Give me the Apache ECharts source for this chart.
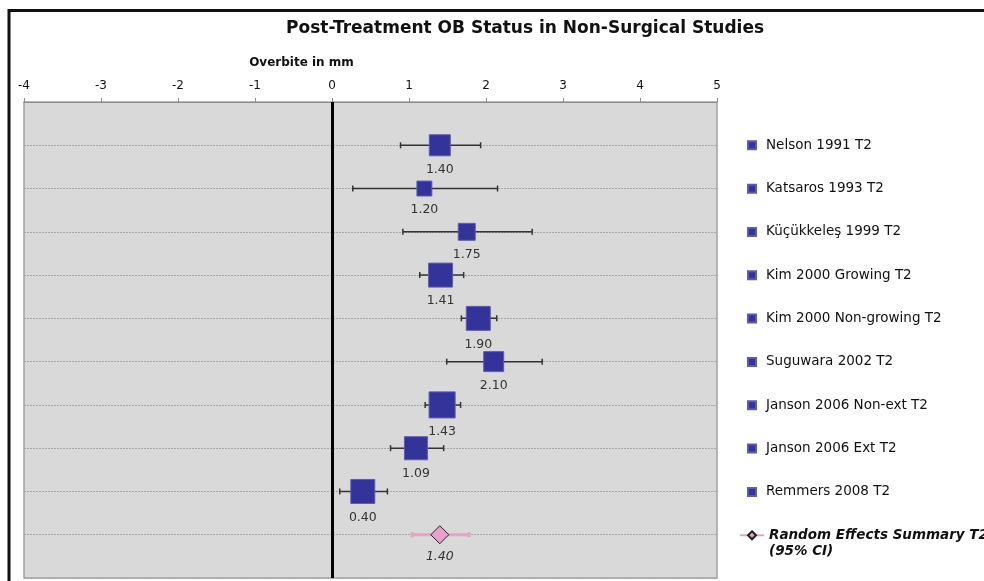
<!DOCTYPE html>
<html>
<head>
<meta charset="utf-8">
<script src="https://cdn.jsdelivr.net/npm/echarts@6/dist/echarts.min.js"></script>
<style>
  html, body { margin: 0; padding: 0; background: #ffffff; }
  #chart { width: 984px; height: 581px; }
</style>
</head>
<body>
<div id="chart"></div>
<script>
// Forest plot: post-treatment overbite (mm) per study, with 95% CI
const studies = [
  'Nelson 1991 T2',
  'Katsaros 1993 T2',
  'Küçükkeleş 1999 T2',
  'Kim 2000 Growing T2',
  'Kim 2000 Non-growing T2',
  'Suguwara 2002 T2',
  'Janson 2006 Non-ext T2',
  'Janson 2006 Ext T2',
  'Remmers 2008 T2'
];
const means  = [1.40, 1.20, 1.75, 1.41, 1.90, 2.10, 1.43, 1.09, 0.40];
const ciLow  = [0.89, 0.27, 0.92, 1.14, 1.68, 1.49, 1.21, 0.76, 0.10];
const ciHigh = [1.93, 2.15, 2.60, 1.71, 2.14, 2.73, 1.67, 1.45, 0.72];
// relative study weights (%), shown as marker area
const weights = [10.3, 5.2, 6.7, 13.4, 13.4, 9.3, 15.8, 12.3, 13.4];

const summaryName = 'Random Effects Summary T2 (95% CI)';
const summaryMean = 1.40;
const summaryLow  = 1.04;
const summaryHigh = 1.78;

const xMin = -4, xMax = 5, xStep = 1;

const FONT = "'DejaVu Sans', Verdana, sans-serif";
const NAVY = '#333399';
const PINK = '#e6a2cb';

// marker side length grows with the square root of the weight
const markerSize = w => 6.55 * Math.sqrt(w);

function ciRenderer(style, cap) {
  return function (params, api) {
    const lo = api.coord([api.value(0), api.value(2)]);
    const hi = api.coord([api.value(1), api.value(2)]);
    return {
      type: 'group',
      children: [
        { type: 'line', shape: { x1: lo[0], y1: lo[1], x2: hi[0], y2: hi[1] }, style: style },
        { type: 'line', shape: { x1: lo[0], y1: lo[1] - cap, x2: lo[0], y2: lo[1] + cap }, style: style },
        { type: 'line', shape: { x1: hi[0], y1: hi[1] - cap, x2: hi[0], y2: hi[1] + cap }, style: style }
      ]
    };
  };
}

const studyRows = studies.map((_, i) => i + 1);
const summaryRow = studies.length + 1;

const series = [];

// study confidence intervals + the line of no effect at 0
series.push({
  type: 'custom',
  name: 'study CI',
  renderItem: ciRenderer({ stroke: '#333333', lineWidth: 1.5 }, 3),
  encode: { x: [0, 1], y: 2 },
  data: studies.map((_, i) => [ciLow[i], ciHigh[i], studyRows[i]]),
  z: 3,
  silent: true,
  markLine: {
    silent: true,
    symbol: 'none',
    label: { show: false },
    lineStyle: { color: '#000000', width: 3, type: 'solid' },
    data: [{ xAxis: 0 }]
  }
});

// summary confidence interval
series.push({
  type: 'custom',
  name: 'summary CI',
  renderItem: ciRenderer({ stroke: PINK, lineWidth: 3 }, 2.5),
  encode: { x: [0, 1], y: 2 },
  data: [[summaryLow, summaryHigh, summaryRow]],
  z: 3,
  silent: true
});

// study point estimates
studies.forEach((name, i) => {
  series.push({
    type: 'scatter',
    name: name,
    symbol: 'rect',
    symbolSize: markerSize(weights[i]),
    itemStyle: { color: NAVY, borderColor: '#5b5bb3', borderWidth: 1, opacity: 1 },
    label: {
      show: true,
      position: 'bottom',
      distance: 7,
      color: '#333333',
      fontFamily: FONT,
      fontSize: 12.5,
      formatter: p => p.value[0].toFixed(2)
    },
    z: 5,
    silent: true,
    data: [[means[i], studyRows[i]]]
  });
});

// pooled estimate
series.push({
  type: 'line',
  name: summaryName,
  symbol: 'diamond',
  symbolSize: 18,
  showSymbol: true,
  lineStyle: { color: PINK, width: 2 },
  itemStyle: { color: PINK, borderColor: '#222222', borderWidth: 1 },
  label: {
    show: true,
    position: 'bottom',
    distance: 6,
    color: '#333333',
    fontFamily: FONT,
    fontSize: 12.5,
    fontStyle: 'italic',
    formatter: p => p.value[0].toFixed(2)
  },
  z: 5,
  silent: true,
  data: [[summaryMean, summaryRow]]
});

const chart = echarts.init(document.getElementById('chart'), null, { renderer: 'canvas' });
chart.setOption({
  animation: false,
  backgroundColor: '#ffffff',
  title: {
    text: 'Post-Treatment OB Status in Non-Surgical Studies',
    left: 281,
    top: 15,
    textStyle: { fontFamily: FONT, fontWeight: 'bold', fontSize: 17, color: '#111111' }
  },
  graphic: [{
    type: 'rect',
    silent: true,
    shape: { x: 9, y: 10.5, width: 1000, height: 600 },
    style: { fill: 'none', stroke: '#111111', lineWidth: 3 },
    z: 100
  }],
  grid: {
    left: 24,
    top: 102,
    right: 267,
    bottom: 3,
    show: true,
    backgroundColor: '#d9d9d9',
    borderColor: '#a3a3a3',
    borderWidth: 1.5
  },
  xAxis: {
    type: 'value',
    position: 'top',
    min: xMin,
    max: xMax,
    interval: xStep,
    name: 'Overbite in mm',
    nameLocation: 'middle',
    nameGap: 33,
    nameTextStyle: {
      fontFamily: FONT, fontWeight: 'bold', fontSize: 12, color: '#111111',
      padding: [0, 138, 0, 0]
    },
    axisLine: { show: true, onZero: false, lineStyle: { color: '#8c8c8c', width: 1 } },
    axisTick: { show: true, inside: false, length: 4, lineStyle: { color: '#8c8c8c' } },
    axisLabel: { color: '#111111', fontFamily: FONT, fontSize: 12, margin: 10 },
    splitLine: { show: false }
  },
  yAxis: {
    type: 'value',
    min: 0,
    max: summaryRow + 1,
    interval: 1,
    inverse: true,
    axisLine: { show: false },
    axisTick: { show: false },
    axisLabel: { show: false },
    splitLine: { show: true, lineStyle: { color: '#a6a6a6', type: [2, 1], width: 1 } }
  },
  legend: [
    {
      data: studies,
      orient: 'vertical',
      left: 747,
      top: 137.3,
      padding: 0,
      icon: 'rect',
      itemWidth: 8,
      itemHeight: 8,
      itemGap: 27.33,
      selectedMode: false,
      textStyle: {
        fontFamily: FONT, fontSize: 13.5, color: '#111111',
        lineHeight: 16, padding: [0, 0, 0, 5]
      }
    },
    {
      data: [summaryName],
      orient: 'vertical',
      left: 739,
      top: 511.3,
      padding: 0,
      itemWidth: 24,
      itemHeight: 10,
      selectedMode: false,
      // blank first line keeps the icon level with the first text line
      formatter: n => ' \n' + n.replace(' (95%', '\n(95%'),
      textStyle: {
        fontFamily: FONT, fontSize: 13.5, fontWeight: 'bold', fontStyle: 'italic',
        color: '#111111', lineHeight: 16
      }
    }
  ],
  series: series
});
</script>
</body>
</html>
